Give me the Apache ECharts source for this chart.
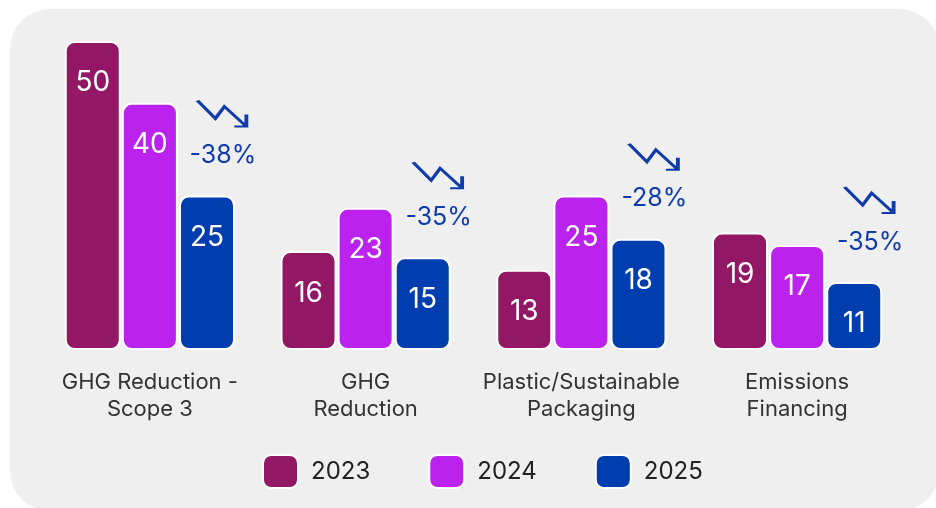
<!DOCTYPE html>
<html>
<head>
<meta charset="utf-8">
<script src="https://cdn.jsdelivr.net/npm/echarts@6/dist/echarts.min.js"></script>
<style>
  html, body { margin: 0; padding: 0; background: #ffffff; }
  #chart { width: 936px; height: 508px; }
</style>
</head>
<body>
<div id="chart"></div>
<script>
const categories = ['GHG Reduction -\nScope 3', 'GHG\nReduction', 'Plastic/Sustainable\nPackaging', 'Emissions\nFinancing'];
const years = ['2023', '2024', '2025'];
const values2023 = [50, 16, 13, 19];
const values2024 = [40, 23, 25, 17];
const values2025 = [25, 15, 18, 11];
const changeLabels = ['-38%', '-35%', '-28%', '-35%'];

const colors = ['#921866', '#BB22EE', '#003DAE'];
const arrowColor = '#0F3BAD';
const font = 'Inter';

const chart = echarts.init(document.getElementById('chart'), null, { renderer: 'canvas' });

function barSeries(name, data, color) {
  return {
    name: name,
    type: 'bar',
    data: data,
    barWidth: 56,
    barGap: '2%',
    itemStyle: { color: color, borderColor: '#ffffff', borderWidth: 2, borderRadius: 9 },
    label: {
      show: true,
      position: 'insideTop',
      distance: 28,
      color: '#ffffff',
      fontSize: 28,
      fontFamily: font
    },
    emphasis: { disabled: true },
    z: 3
  };
}

const option = {
  backgroundColor: '#ffffff',
  animation: false,
  textStyle: { fontFamily: font },
  graphic: [{
    type: 'rect',
    silent: true,
    z: -10,
    shape: { x: 10, y: 9, width: 929, height: 502, r: 40 },
    style: { fill: '#EFEFEF' }
  }],
  grid: { left: 42, right: 31, top: 41, bottom: 158, containLabel: false },
  legend: {
    data: years,
    left: 257,
    top: 449,
    icon: 'roundRect',
    itemWidth: 35,
    itemHeight: 33,
    itemGap: 58,
    textStyle: { fontSize: 24, color: '#222222', fontFamily: font, padding: [0, 0, 0, 8] },
    selectedMode: false
  },
  xAxis: {
    type: 'category',
    data: categories,
    axisLine: { show: false },
    axisTick: { show: false },
    axisLabel: { color: '#333333', fontSize: 22, lineHeight: 27, margin: 19, fontFamily: font, interval: 0 }
  },
  yAxis: {
    type: 'value',
    min: 0,
    max: 50,
    show: false,
    splitLine: { show: false }
  },
  series: [
    barSeries(years[0], values2023, colors[0]),
    barSeries(years[1], values2024, colors[1]),
    barSeries(years[2], values2025, colors[2]),
    {
      name: 'trendArrow',
      type: 'scatter',
      data: values2025,
      symbol: 'path://M0 0 L18 18 L27 6 L49 26 M49 14 L49 26 L37 26',
      symbolSize: [49, 26],
      symbolOffset: [72, -82],
      itemStyle: { color: 'transparent', borderColor: arrowColor, borderWidth: 2.8, borderJoin: 'miter', opacity: 1 },
      emphasis: { disabled: true },
      silent: true,
      z: 5
    },
    {
      name: 'trendText',
      type: 'scatter',
      data: values2025,
      symbolSize: 1,
      itemStyle: { color: 'transparent', opacity: 1 },
      label: {
        show: true,
        position: 'inside',
        offset: [73, -40],
        formatter: function (p) { return changeLabels[p.dataIndex]; },
        color: arrowColor,
        opacity: 1,
        fontSize: 25,
        fontFamily: font
      },
      emphasis: { disabled: true },
      silent: true,
      z: 5
    }
  ]
};

chart.setOption(option);
</script>
</body>
</html>
